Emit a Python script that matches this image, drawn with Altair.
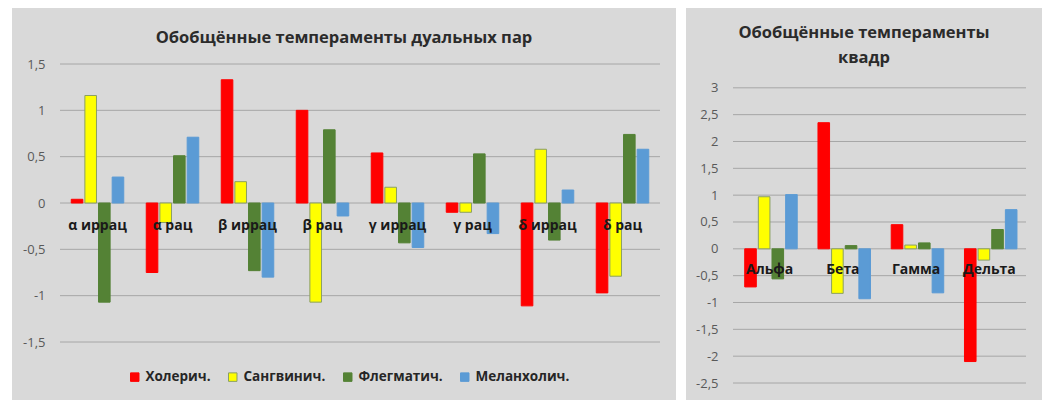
import altair as alt
import pandas as pd

series = ["Холерич.", "Сангвинич.", "Флегматич.", "Меланхолич."]
fill_colors = ["#ff0000", "#ffff00", "#548235", "#5b9bd5"]
edge_colors = ["#ff0000", "#8a9f63", "#548235", "#5b9bd5"]

pairs = ["α иррац", "α рац", "β иррац", "β рац", "γ иррац", "γ рац", "δ иррац", "δ рац"]
pairs_chol = [0.04, -0.75, 1.33, 1.00, 0.54, -0.10, -1.11, -0.97]
pairs_sang = [1.16, -0.21, 0.23, -1.07, 0.17, -0.10, 0.58, -0.79]
pairs_phleg = [-1.07, 0.51, -0.73, 0.79, -0.43, 0.53, -0.40, 0.74]
pairs_mel = [0.28, 0.71, -0.80, -0.14, -0.48, -0.33, 0.14, 0.58]
pairs_ticks = [-1.5, -1, -0.5, 0, 0.5, 1, 1.5]
pairs_title = "Обобщённые темпераменты дуальных пар"

quadras = ["Альфа", "Бета", "Гамма", "Дельта"]
quad_chol = [-0.71, 2.35, 0.45, -2.10]
quad_sang = [0.97, -0.83, 0.07, -0.21]
quad_phleg = [-0.56, 0.06, 0.11, 0.36]
quad_mel = [1.01, -0.93, -0.82, 0.73]
quad_ticks = [-2.5, -2, -1.5, -1, -0.5, 0, 0.5, 1, 1.5, 2, 2.5, 3]
quad_title = ["Обобщённые темпераменты", "квадр"]

FONT = "Open Sans"


def make_panel(cats, vals_by_series, ticks, width, height, dom_hi, title,
               title_offset, pad_inner, box, label_pad_x, legend):
    rows = []
    for s, vals in zip(series, vals_by_series):
        for c, v in zip(cats, vals):
            rows.append({"cat": c, "series": s, "value": v})
    df = pd.DataFrame(rows)
    dom_lo = ticks[0]
    yscale = alt.Scale(domain=[dom_lo, dom_hi], nice=False, zero=False)
    y_axis = alt.Axis(values=ticks, grid=False, domain=False, ticks=False,
                      tickSize=0, labelPadding=15,
                      labelExpr="replace(toString(datum.value), '.', ',')",
                      labelFont=FONT, labelFontSize=13,
                      labelColor="#595959", zindex=1)
    x0, x1, y0, y1 = box
    bg = alt.Chart(pd.DataFrame({"k": [0]})).mark_rect(color="#d9d9d9").encode(
        x=alt.value(x0), x2=alt.value(x1), y=alt.value(y0), y2=alt.value(y1))
    grid = alt.Chart(pd.DataFrame({"value": ticks})).mark_rule(
        color="#a6a6a6", strokeWidth=1).encode(
        y=alt.Y("value:Q", scale=yscale, axis=y_axis, title=None))
    axis_offset = -(0 - dom_lo) * height / (dom_hi - dom_lo)
    bars = alt.Chart(df).mark_bar(strokeWidth=1).encode(
        x=alt.X("cat:N", sort=cats, title=None,
                scale=alt.Scale(paddingInner=pad_inner, paddingOuter=pad_inner / 2),
                axis=alt.Axis(orient="bottom", offset=axis_offset, domain=False,
                              ticks=False, tickSize=0, labelAngle=0,
                              labelPadding=label_pad_x, labelFont=FONT,
                              labelFontSize=14, labelFontWeight="bold",
                              labelColor="#1a1a1a", zindex=1)),
        xOffset=alt.XOffset("series:N", sort=series,
                            scale=alt.Scale(paddingInner=0.15)),
        y=alt.Y("value:Q", scale=yscale, title=None, axis=y_axis),
        color=alt.Color("series:N", sort=series,
                        scale=alt.Scale(domain=series, range=fill_colors),
                        legend=legend),
        stroke=alt.Stroke("series:N", sort=series,
                          scale=alt.Scale(domain=series, range=edge_colors),
                          legend=legend),
    )
    return alt.layer(bg, grid, bars).properties(
        width=width, height=height,
        title=alt.TitleParams(text=title, anchor="middle", frame="bounds",
                              offset=title_offset, fontSize=16.5, font=FONT,
                              fontWeight="bold", color="#2b2b2b", lineHeight=25),
    )


leg = alt.Legend(title=None, orient="none", legendX=68, legendY=306,
                 direction="horizontal", symbolType="square", symbolSize=72,
                 labelFontSize=13.5, labelFontWeight="bold", labelColor="#262626",
                 labelFont=FONT, columnPadding=15, labelOffset=4,
                 symbolStrokeWidth=1, padding=0)

# both plot areas start at the same height; the quadra panel's grid starts 24px lower
quad_unit_px = 53.67
quad_height = 319
left = make_panel(pairs, [pairs_chol, pairs_sang, pairs_phleg, pairs_mel],
                  pairs_ticks, 600, 278, pairs_ticks[-1], pairs_title, -38, 0.3,
                  (-48, 616, -56, 336), 15, leg)
right = make_panel(quadras, [quad_chol, quad_sang, quad_phleg, quad_mel],
                   quad_ticks, 293, quad_height,
                   quad_ticks[0] + quad_height / quad_unit_px, quad_title, -58, 0.32,
                   (-47, 309, -56, 336), 14, None)

chart = alt.hconcat(left, right, spacing=10).resolve_scale(
    color="independent", stroke="independent", x="independent", y="independent"
).resolve_legend(color="independent", stroke="independent").properties(
    padding={"left": 4, "top": 0, "right": 0, "bottom": 0},
    background="white",
).configure_view(stroke=None)

chart.save("out.html", embed_options={"renderer": "svg", "actions": False})
